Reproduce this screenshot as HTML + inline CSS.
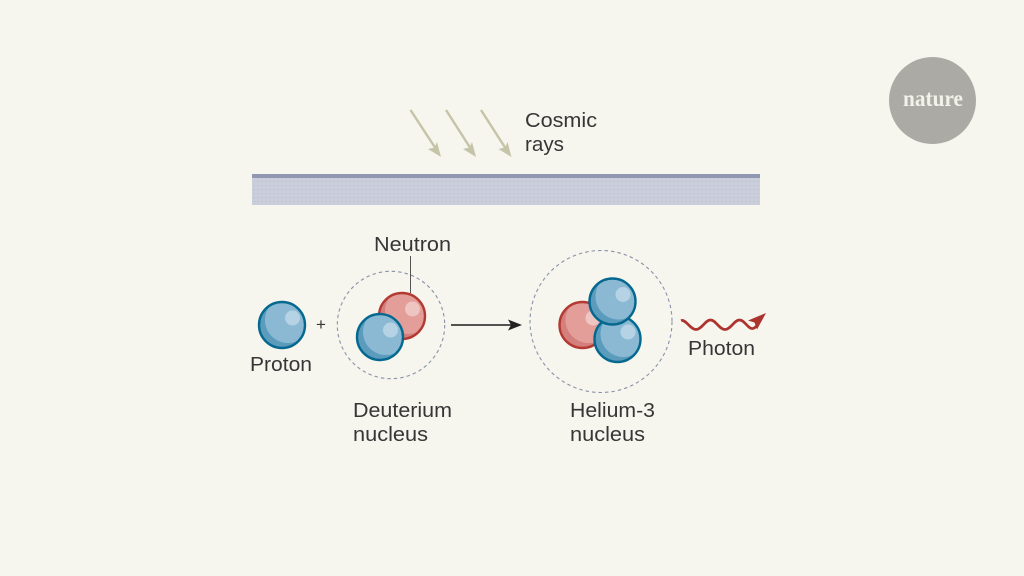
<!DOCTYPE html>
<html><head><meta charset="utf-8"><style>
html,body{margin:0;padding:0;background:#f6f5ee;width:1024px;height:576px;overflow:hidden}
svg{display:block}
text{font-family:"Liberation Sans",sans-serif;fill:#363636;font-size:20px}
</style></head><body>
<svg width="1024" height="576" viewBox="0 0 1024 576" xmlns="http://www.w3.org/2000/svg">
<defs>
<pattern id="dots" width="4" height="4" patternUnits="userSpaceOnUse"><rect width="4" height="4" fill="#cacedb"/><rect x="1" y="1" width="2" height="1" fill="#c0c5d4"/></pattern>
<clipPath id="cb"><circle r="23"/></clipPath>
<g id="blue"><circle r="23" fill="#5b9cbd"/><g clip-path="url(#cb)"><circle cx="6" cy="-5" r="23" fill="#8bb9d3"/></g><circle cx="10.500" cy="-7" r="7.500" fill="#b6d3e5"/><circle r="23" fill="none" stroke="#05688f" stroke-width="2.400"/></g>
<g id="red"><circle r="23" fill="#d57f7c"/><g clip-path="url(#cb)"><circle cx="6" cy="-5" r="23" fill="#e39e9a"/></g><circle cx="10.500" cy="-7" r="7.500" fill="#eec5c0"/><circle r="23" fill="none" stroke="#b33a33" stroke-width="2.400"/></g>
</defs>
<rect width="1024" height="576" fill="#f6f5ee"/>
<circle cx="932.500" cy="100.500" r="43.500" fill="#abaaa5"/>
<text x="903" y="106" textLength="60" lengthAdjust="spacingAndGlyphs" style="font-family:'Liberation Serif',serif;font-weight:bold;font-size:23px;fill:#f3f2ea">nature</text>

<g stroke="#c5c4a8" stroke-width="2.400" fill="none"><path d="M410.500 110L436 149"/><path d="M446 110L471 149"/><path d="M481 110L506 149"/></g>
<g fill="#c5c4a8"><path d="M441 157L428 149L434.500 147.500L437 142Z"/><path d="M476 157L463 149L469.500 147.500L472 142Z"/><path d="M511.500 157L498.500 149L505 147.500L507.500 142Z"/></g>
<text x="525" y="127" textLength="72" lengthAdjust="spacingAndGlyphs">Cosmic</text>
<text x="525" y="151" textLength="39" lengthAdjust="spacingAndGlyphs">rays</text>

<rect x="252" y="174" width="508" height="31" fill="url(#dots)"/>
<rect x="252" y="174" width="508" height="4" fill="#8f98b0"/>

<use href="#blue" x="282" y="325"/>
<text x="250" y="371" textLength="62" lengthAdjust="spacingAndGlyphs">Proton</text>
<text x="321" y="330" text-anchor="middle" style="font-size:17px">+</text>

<circle cx="391" cy="325" r="53.700" fill="none" stroke="#8a93a8" stroke-width="1.100" stroke-dasharray="3.500 3"/>
<path d="M410.500 256V293" stroke="#555" stroke-width="1" fill="none"/>
<use href="#red" x="402" y="316"/>
<use href="#blue" x="380" y="337"/>
<text x="374" y="251" textLength="77" lengthAdjust="spacingAndGlyphs">Neutron</text>
<text x="353" y="417" textLength="99" lengthAdjust="spacingAndGlyphs">Deuterium</text>
<text x="353" y="441" textLength="75" lengthAdjust="spacingAndGlyphs">nucleus</text>

<path d="M451 325H512" stroke="#3a3a3a" stroke-width="1.800" fill="none"/>
<path d="M522 325L508 319.500L511 325L508 330.500Z" fill="#222"/>

<circle cx="601" cy="321.500" r="71" fill="none" stroke="#8a93a8" stroke-width="1.100" stroke-dasharray="3.500 3"/>
<use href="#red" x="582.500" y="325"/>
<use href="#blue" x="617.500" y="339"/>
<use href="#blue" x="612.500" y="301.500"/>
<text x="570" y="417" textLength="85" lengthAdjust="spacingAndGlyphs">Helium-3</text>
<text x="570" y="441" textLength="75" lengthAdjust="spacingAndGlyphs">nucleus</text>

<path d="M681 320.500C686 319 690 329.500 696 329.500C702 329.500 705 320 710.500 320C716 320 719 329.500 725 329.500C731 329.500 734 320 739.500 320C745 320 748 329.500 753 328.500C755 328 757 326 759 322" fill="none" stroke="#ad342e" stroke-width="2.700"/>
<path d="M766 313L748 320.500L754.500 322.500L757 329.500Z" fill="#ad342e"/>
<text x="688" y="355" textLength="67" lengthAdjust="spacingAndGlyphs">Photon</text>
</svg>
</body></html>
